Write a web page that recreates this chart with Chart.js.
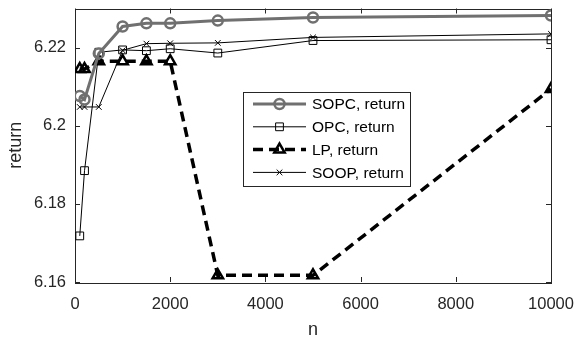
<!DOCTYPE html>
<html>
<head>
<meta charset="utf-8">
<script src="https://cdn.jsdelivr.net/npm/chart.js@4"></script>
<style>
  body { margin: 0; background: #fff; }
  canvas { display: block; }
</style>
</head>
<body>
<canvas id="myChart" width="576" height="337"></canvas>
<script>
// 数据
const ns = [100, 200, 500, 1000, 1500, 2000, 3000, 5000, 10000];
const sopcReturn = [6.2076, 6.2067, 6.2185, 6.2254, 6.2262, 6.2262, 6.2269, 6.2277, 6.2282];
const opcReturn = [6.1718, 6.1885, 6.2188, 6.2194, 6.2192, 6.2197, 6.2186, 6.2218, 6.2220];
const lpReturn = [6.2145, 6.2145, 6.2165, 6.2165, 6.2165, 6.2165, 6.1617, 6.1617, 6.2094];
const soopReturn = [6.2048, 6.2048, 6.2048, 6.2193, 6.2210, 6.2211, 6.2212, 6.2226, 6.2235];
const xTicks = [0, 2000, 4000, 6000, 8000, 10000];
const yTicks = [6.16, 6.18, 6.2, 6.22];
const seriesNames = ['SOPC, return', 'OPC, return', 'LP, return', 'SOOP, return'];

const axisColor = '#262626';
const fontFamily = '"Liberation Sans", Arial, Helvetica, sans-serif';

function toPoints(values) {
    return ns.map((n, i) => ({ x: n, y: values[i] }));
}

// 坐标框 + 向内刻度
const boxPlugin = {
    id: 'box',
    beforeDatasetsDraw(chart) {
        const { ctx, chartArea: a, scales } = chart;
        ctx.save();
        ctx.strokeStyle = axisColor;
        ctx.lineWidth = 1;
        ctx.beginPath();
        xTicks.forEach(v => {
            const px = Math.round(scales.x.getPixelForValue(v)) + 0.5;
            ctx.moveTo(px, a.bottom); ctx.lineTo(px, a.bottom - 5);
            ctx.moveTo(px, a.top); ctx.lineTo(px, a.top + 5);
        });
        yTicks.forEach(v => {
            const py = Math.round(scales.y.getPixelForValue(v)) + 0.5;
            ctx.moveTo(a.left, py); ctx.lineTo(a.left + 5, py);
            ctx.moveTo(a.right, py); ctx.lineTo(a.right - 5, py);
        });
        ctx.stroke();
        ctx.strokeRect(Math.round(a.left) + 0.5, Math.round(a.top) + 0.5,
            Math.round(a.right - a.left), Math.round(a.bottom - a.top));
        ctx.restore();
    }
};

// 图例（放在坐标区内部）
const legendPlugin = {
    id: 'innerLegend',
    afterDatasetsDraw(chart) {
        const { ctx } = chart;
        const bx = 243.5, by = 92.5, bw = 167, bh = 94;
        ctx.save();
        ctx.fillStyle = '#fff';
        ctx.fillRect(bx, by, bw, bh);
        ctx.strokeStyle = axisColor;
        ctx.lineWidth = 1;
        ctx.strokeRect(bx, by, bw, bh);
        chart.data.datasets.forEach((ds, i) => {
            const y = 104 + i * 22.8;
            ctx.save();
            ctx.strokeStyle = ds.borderColor;
            ctx.lineWidth = ds.borderWidth;
            ctx.setLineDash(ds.borderDash || []);
            ctx.beginPath();
            ctx.moveTo(253, y); ctx.lineTo(306, y);
            ctx.stroke();
            ctx.setLineDash([]);
            ctx.strokeStyle = ds.pointBorderColor;
            ctx.fillStyle = 'rgba(0,0,0,0)';
            ctx.lineWidth = ds.pointBorderWidth;
            Chart.helpers.drawPoint(ctx, {
                pointStyle: ds.pointStyle,
                radius: ds.pointRadius,
                borderWidth: ds.pointBorderWidth,
                rotation: 0
            }, 279.5, y);
            ctx.restore();
            ctx.fillStyle = '#000';
            ctx.font = '15.5px ' + fontFamily;
            ctx.textBaseline = 'middle';
            ctx.fillText(ds.label, 312, y + 1);
        });
        ctx.restore();
    }
};

const ctx = document.getElementById('myChart').getContext('2d');
const chart = new Chart(ctx, {
    type: 'line',
    data: {
        datasets: [{
            label: seriesNames[0],
            data: toPoints(sopcReturn),
            borderColor: '#707070',
            borderWidth: 3,
            pointStyle: 'circle',
            pointRadius: 5,
            pointBorderWidth: 2.5,
            pointBorderColor: '#707070',
            pointBackgroundColor: 'rgba(0,0,0,0)'
        }, {
            label: seriesNames[1],
            data: toPoints(opcReturn),
            borderColor: '#000',
            borderWidth: 1,
            pointStyle: 'rect',
            pointRadius: 5.5,
            pointBorderWidth: 1,
            pointBorderColor: '#000',
            pointBackgroundColor: 'rgba(0,0,0,0)'
        }, {
            label: seriesNames[2],
            data: toPoints(lpReturn),
            borderColor: '#000',
            borderWidth: 3.5,
            borderDash: [10, 6],
            pointStyle: 'triangle',
            pointRadius: 6,
            pointBorderWidth: 2.5,
            pointBorderColor: '#000',
            pointBackgroundColor: 'rgba(0,0,0,0)'
        }, {
            label: seriesNames[3],
            data: toPoints(soopReturn),
            borderColor: '#000',
            borderWidth: 1,
            pointStyle: 'crossRot',
            pointRadius: 4,
            pointBorderWidth: 1,
            pointBorderColor: '#000',
            pointBackgroundColor: 'rgba(0,0,0,0)'
        }]
    },
    options: {
        responsive: false,
        animation: false,
        devicePixelRatio: 1,
        layout: { padding: { top: 8, right: 25, left: 0, bottom: 0 } },
        plugins: {
            legend: { display: false },
            tooltip: { enabled: false }
        },
        elements: { line: { tension: 0 } },
        scales: {
            x: {
                type: 'linear',
                min: 0,
                max: 10000,
                afterBuildTicks: s => { s.ticks = xTicks.map(v => ({ value: v })); },
                afterFit: s => { s.height = 55; s.paddingLeft = 0; s.paddingRight = 0; },
                grid: { display: false, drawTicks: false },
                border: { display: false },
                ticks: {
                    padding: 13,
                    color: axisColor,
                    font: { size: 16.5, family: fontFamily },
                    maxRotation: 0,
                    callback: v => String(v)
                },
                title: {
                    display: true,
                    text: 'n',
                    color: axisColor,
                    font: { size: 18, family: fontFamily },
                    padding: { top: 0, bottom: -4 }
                }
            },
            y: {
                min: 6.16,
                max: 6.23,
                afterBuildTicks: s => { s.ticks = yTicks.map(v => ({ value: v })); },
                afterFit: s => { s.width = 75; s.paddingTop = 0; s.paddingBottom = 0; },
                grid: { display: false, drawTicks: false },
                border: { display: false },
                ticks: {
                    padding: 9,
                    color: axisColor,
                    font: { size: 16.5, family: fontFamily },
                    callback: v => String(Number(v.toFixed(2)))
                },
                title: {
                    display: true,
                    text: 'return',
                    color: axisColor,
                    font: { size: 18, family: fontFamily },
                    padding: { top: 5, bottom: 0 }
                }
            }
        }
    },
    plugins: [boxPlugin, legendPlugin]
});
</script>
</body>
</html>
